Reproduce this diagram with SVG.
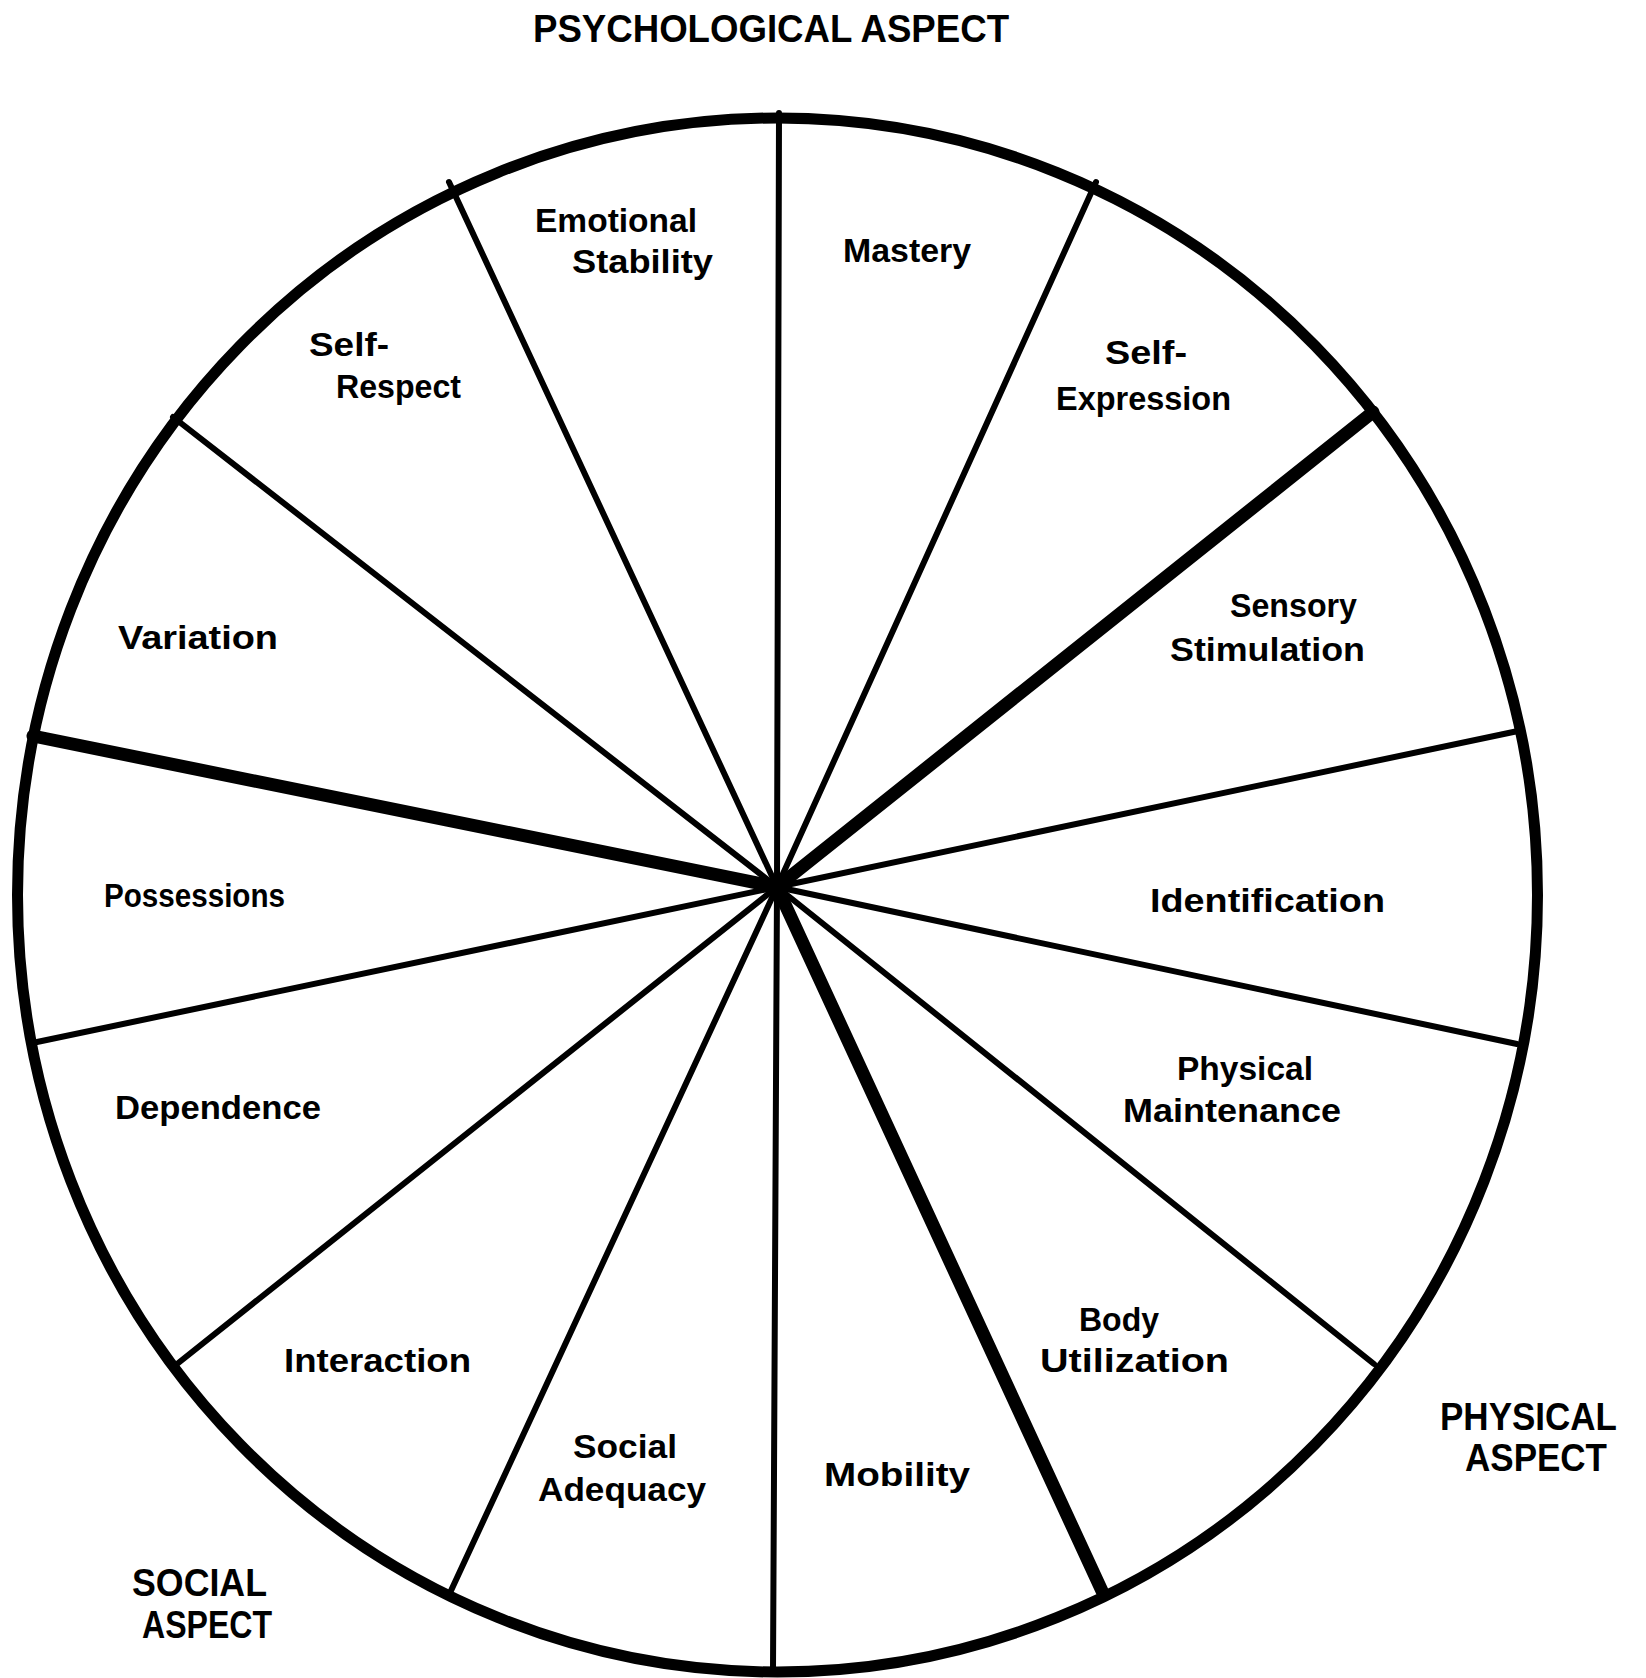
<svg xmlns="http://www.w3.org/2000/svg" width="1646" height="1678" viewBox="0 0 1646 1678">
<style>
  .lbl { font-family: "Liberation Sans", Arial, sans-serif; font-weight: bold; font-size: 34px; fill: #000; }
  .asp { font-family: "Liberation Sans", Arial, sans-serif; font-weight: bold; font-size: 38px; fill: #000; }
  .thin { stroke: #000; stroke-width: 6; stroke-linecap: round; fill: none; }
  .thick { stroke: #000; stroke-width: 13; stroke-linecap: round; fill: none; }
  .rim { stroke: #000; stroke-width: 11; fill: none; }
</style>
<rect width="1646" height="1678" fill="#fff"/>
<g id="connectors">
  <line class="thin" x1="777" y1="887" x2="779" y2="113"/>
  <line class="thin" x1="777" y1="887" x2="1096" y2="182"/>
  <line class="thick" x1="777" y1="887" x2="1373" y2="412"/>
  <line class="thin" x1="777" y1="887" x2="1518" y2="731"/>
  <line class="thin" x1="777" y1="887" x2="1517" y2="1044"/>
  <line class="thin" x1="777" y1="887" x2="1374" y2="1364"/>
  <line class="thick" x1="777" y1="887" x2="1102" y2="1591"/>
  <line class="thin" x1="777" y1="887" x2="773" y2="1670"/>
  <line class="thin" x1="777" y1="887" x2="449" y2="1595"/>
  <line class="thin" x1="777" y1="887" x2="177" y2="1364"/>
  <line class="thin" x1="777" y1="887" x2="37" y2="1042"/>
  <line class="thick" x1="777" y1="887" x2="33" y2="736"/>
  <line class="thin" x1="777" y1="887" x2="173" y2="417"/>
  <line class="thin" x1="777" y1="887" x2="449" y2="182"/>
</g>
<g id="rim">
  <ellipse class="rim" cx="777.5" cy="895" rx="760" ry="777"/>
</g>
<g id="aspect-psychological"><text class="asp" x="533" y="42" textLength="476" lengthAdjust="spacingAndGlyphs">PSYCHOLOGICAL ASPECT</text></g>
<g id="aspect-physical">
  <text class="asp" x="1440" y="1430" textLength="177" lengthAdjust="spacingAndGlyphs">PHYSICAL</text>
  <text class="asp" x="1465" y="1471" textLength="142" lengthAdjust="spacingAndGlyphs">ASPECT</text>
</g>
<g id="aspect-social">
  <text class="asp" x="132" y="1596" textLength="135" lengthAdjust="spacingAndGlyphs">SOCIAL</text>
  <text class="asp" x="142" y="1638" textLength="130" lengthAdjust="spacingAndGlyphs">ASPECT</text>
</g>
<g id="emotional-stability">
  <text class="lbl" x="535" y="232" textLength="162" lengthAdjust="spacingAndGlyphs">Emotional</text>
  <text class="lbl" x="572" y="273" textLength="141" lengthAdjust="spacingAndGlyphs">Stability</text>
</g>
<g id="mastery"><text class="lbl" x="843" y="262" textLength="128" lengthAdjust="spacingAndGlyphs">Mastery</text></g>
<g id="self-expression">
  <text class="lbl" x="1105" y="364" textLength="82" lengthAdjust="spacingAndGlyphs">Self-</text>
  <text class="lbl" x="1056" y="410" textLength="175" lengthAdjust="spacingAndGlyphs">Expression</text>
</g>
<g id="sensory-stimulation">
  <text class="lbl" x="1230" y="617" textLength="127" lengthAdjust="spacingAndGlyphs">Sensory</text>
  <text class="lbl" x="1170" y="661" textLength="195" lengthAdjust="spacingAndGlyphs">Stimulation</text>
</g>
<g id="identification"><text class="lbl" x="1150" y="912" textLength="235" lengthAdjust="spacingAndGlyphs">Identification</text></g>
<g id="physical-maintenance">
  <text class="lbl" x="1177" y="1080" textLength="136" lengthAdjust="spacingAndGlyphs">Physical</text>
  <text class="lbl" x="1123" y="1122" textLength="218" lengthAdjust="spacingAndGlyphs">Maintenance</text>
</g>
<g id="body-utilization">
  <text class="lbl" x="1079" y="1331" textLength="80" lengthAdjust="spacingAndGlyphs">Body</text>
  <text class="lbl" x="1040" y="1372" textLength="189" lengthAdjust="spacingAndGlyphs">Utilization</text>
</g>
<g id="mobility"><text class="lbl" x="824" y="1486" textLength="146" lengthAdjust="spacingAndGlyphs">Mobility</text></g>
<g id="social-adequacy">
  <text class="lbl" x="573" y="1458" textLength="104" lengthAdjust="spacingAndGlyphs">Social</text>
  <text class="lbl" x="538" y="1501" textLength="168" lengthAdjust="spacingAndGlyphs">Adequacy</text>
</g>
<g id="interaction"><text class="lbl" x="284" y="1372" textLength="187" lengthAdjust="spacingAndGlyphs">Interaction</text></g>
<g id="dependence"><text class="lbl" x="115" y="1119" textLength="206" lengthAdjust="spacingAndGlyphs">Dependence</text></g>
<g id="possessions"><text class="lbl" x="104" y="907" textLength="181" lengthAdjust="spacingAndGlyphs">Possessions</text></g>
<g id="variation"><text class="lbl" x="118" y="649" textLength="160" lengthAdjust="spacingAndGlyphs">Variation</text></g>
<g id="self-respect">
  <text class="lbl" x="309" y="356" textLength="80" lengthAdjust="spacingAndGlyphs">Self-</text>
  <text class="lbl" x="336" y="398" textLength="125" lengthAdjust="spacingAndGlyphs">Respect</text>
</g>
</svg>
